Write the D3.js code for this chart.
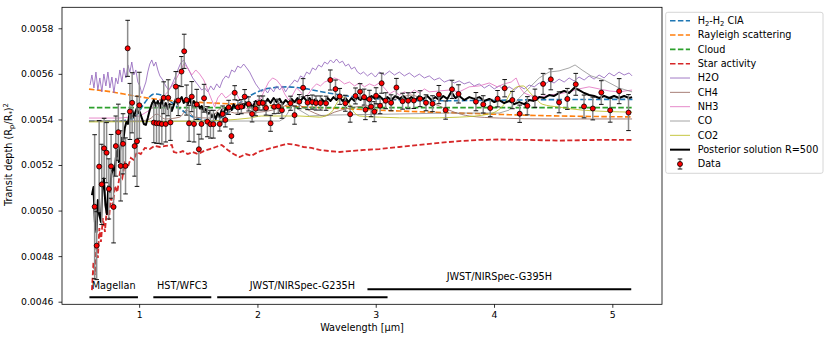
<!DOCTYPE html>
<html>
<head>
<meta charset="utf-8">
<script src="https://cdn.jsdelivr.net/npm/d3@7"></script>
<style>
  body { margin: 0; background: #fff; }
  svg text { font-family: "DejaVu Sans", sans-serif; }
</style>
</head>
<body>
<svg id="chart" width="830" height="338"></svg>
<script>
// transit depth values are kept in ppm (1e-6), axis shows them as fractions

// --- observed spectrum ---
const dataWl = [
  0.624,0.641,0.662,0.684,0.704,0.725,0.744,0.763,0.784,0.803,0.824,0.844,0.864,0.885,0.903,0.922,0.941,0.962,0.982,1.002,
  1.124,1.147,1.169,1.192,1.208,1.225,1.246,1.265,1.310,1.331,1.358,1.381,1.401,1.422,1.445,1.464,1.487,1.505,1.527,1.549,1.577,1.603,1.628,
  1.681,1.706,1.729,1.757,1.780,1.808,1.835,1.864,1.892,1.926,1.955,1.985,2.015,2.046,2.073,2.111,2.141,2.177,2.207,2.280,
  2.314,2.354,2.386,2.424,2.463,2.495,2.533,2.580,2.616,2.660,2.696,2.743,2.784,2.829,2.868,2.902,
  2.913,2.947,2.961,2.989,3.003,3.037,3.050,3.084,3.130,3.175,3.227,3.274,3.322,3.375,3.425,3.480,3.534,3.591,3.645,3.700,
  3.847,3.909,3.968,4.030,4.090,4.155,4.217,4.282,4.346,4.415,4.480,4.550,4.620,4.691,4.761,4.835,4.907,4.982,5.058,5.137
];
const dataDepth = [
  5017,4846,5193,5115,5273,5254,5095,5194,5016,5283,5344,5196,5293,5196,5712,5435,5473,5283,5304,5462,
  5386,5383,5383,5380,5495,5380,5495,5387,5544,5483,5610,5699,5485,5383,5500,5380,5466,5269,5380,5493,5390,5379,5379,
  5380,5424,5398,5453,5327,5517,5453,5456,5500,5468,5424,5447,5472,5472,5450,5383,5456,5458,5440,5471,
  5419,5478,5539,5474,5476,5472,5472,5471,5573,5533,5501,5471,5423,5503,5522,5498,
  5443,5488,5456,5434,5504,5460,5559,5482,5473,5540,5480,5482,5483,5491,5473,5469,5509,5441,5532,5512,
  5478,5466,5450,5491,5537,5485,5425,5460,5493,5556,5576,5475,5490,5554,5457,5448,5518,5440,5524,5430
];
const dataErr = [
  316,149,202,176,132,132,132,140,158,132,123,154,132,123,123,123,132,132,198,145,
  88,88,88,88,70,79,79,79,66,66,66,75,66,79,66,79,66,66,66,61,66,61,61,
  31,35,31,31,31,31,31,31,31,31,35,31,31,31,31,35,31,31,35,31,
  40,31,40,31,31,31,31,31,44,40,35,35,35,35,35,35,
  44,40,44,44,35,35,44,35,35,40,35,35,35,35,35,35,40,40,40,40,
  40,38,38,36,38,38,38,40,40,46,46,46,46,48,50,50,52,52,55,79
];

// --- model components [wavelength µm, depth ppm] ---
const ciaH2 = [[0.576,5392],[0.80,5392],[0.93,5400],[0.98,5420],[1.03,5460],[1.08,5495],[1.13,5512],[1.18,5508],
  [1.25,5485],[1.35,5445],[1.45,5412],[1.55,5396],[1.62,5393],[1.70,5410],[1.80,5450],[1.90,5492],[2.00,5520],
  [2.10,5537],[2.25,5543],[2.40,5535],[2.60,5516],[2.80,5500],[3.10,5488],[3.50,5482],[4.00,5484],[4.50,5487],[5.17,5488]];
const rayleigh = [[0.576,5533],[0.753,5522],[0.964,5503],[1.175,5487],[1.512,5475],[2.018,5463],[2.608,5450],
  [3.200,5437],[3.706,5428],[4.381,5417],[5.167,5411]];
const cloud = [[0.576,5452],[2.5,5452],[5.167,5452]];
const starActivity = [[0.601,4651],[0.614,4774],[0.626,4717],[0.639,4849],[0.651,4792],[0.664,4923],[0.677,4862],
  [0.694,4967],[0.711,4906],[0.727,5011],[0.744,4959],[0.761,5055],[0.778,5024],[0.795,5108],[0.816,5081],[0.837,5164],
  [0.858,5143],[0.879,5209],[0.905,5191],[0.930,5231],[0.955,5222],[0.981,5257],[1.014,5248],[1.048,5275],[1.090,5270],
  [1.132,5284],[1.175,5279],[1.225,5284],[1.276,5288],[1.293,5257],[1.327,5253],[1.369,5261],[1.411,5248],[1.453,5257],
  [1.496,5248],[1.546,5261],[1.597,5270],[1.648,5279],[1.698,5288],[1.749,5266],[1.799,5248],[1.850,5235],[1.901,5248],
  [1.951,5240],[2.002,5257],[2.061,5266],[2.120,5275],[2.188,5284],[2.255,5293],[2.323,5288],[2.390,5279],[2.457,5275],
  [2.525,5266],[2.609,5261],[2.694,5257],[2.778,5261],[2.905,5266],[3.032,5270],[3.200,5279],[3.369,5288],[3.537,5297],
  [3.706,5305],[3.875,5310],[4.044,5312],[4.297,5310],[4.550,5307],[4.888,5310],[5.167,5310]];
const h2o = [[0.585,5551],[0.601,5595],[0.618,5538],[0.635,5608],[0.651,5529],[0.668,5582],[0.685,5521],[0.702,5599],
  [0.719,5547],[0.736,5608],[0.753,5538],[0.770,5586],[0.787,5516],[0.803,5582],[0.820,5556],[0.837,5617],[0.854,5564],
  [0.871,5626],[0.888,5582],[0.905,5639],[0.922,5608],[0.938,5652],[0.955,5595],[0.972,5617],[0.989,5564],[1.006,5547],
  [1.023,5512],[1.040,5538],[1.057,5564],[1.073,5608],[1.090,5643],[1.107,5661],[1.124,5634],[1.141,5652],[1.158,5617],
  [1.175,5591],[1.200,5573],[1.225,5547],[1.250,5529],[1.276,5551],[1.301,5582],[1.327,5617],[1.352,5648],[1.377,5661],
  [1.402,5634],[1.428,5608],[1.453,5582],[1.479,5564],[1.504,5547],[1.529,5529],[1.554,5538],[1.580,5521],[1.605,5547],
  [1.630,5529],[1.656,5556],[1.681,5538],[1.706,5573],[1.732,5591],[1.757,5582],[1.782,5617],[1.808,5608],[1.833,5634],
  [1.859,5626],[1.884,5643],[1.909,5626],[1.934,5608],[1.959,5582],[1.985,5556],[2.010,5538],[2.036,5521],[2.061,5534],
  [2.086,5516],[2.111,5538],[2.137,5521],[2.162,5547],[2.188,5529],[2.213,5547],[2.238,5521],[2.264,5543],[2.289,5556],
  [2.314,5573],[2.339,5564],[2.365,5591],[2.390,5582],[2.416,5608],[2.441,5599],[2.466,5626],[2.492,5617],[2.517,5639],
  [2.542,5630],[2.568,5652],[2.593,5643],[2.618,5661],[2.643,5648],[2.668,5665],[2.694,5648],[2.719,5656],[2.745,5634],
  [2.770,5643],[2.795,5621],[2.821,5630],[2.846,5608],[2.871,5599],[2.897,5608],[2.930,5591],[2.964,5604],[2.997,5586],
  [3.031,5608],[3.073,5595],[3.116,5612],[3.158,5595],[3.200,5608],[3.242,5591],[3.284,5604],[3.327,5586],[3.369,5599],
  [3.411,5582],[3.453,5591],[3.495,5573],[3.538,5582],[3.580,5564],[3.622,5573],[3.664,5560],[3.706,5569],[3.748,5556],
  [3.791,5564],[3.833,5547],[3.875,5556],[3.918,5538],[3.960,5551],[4.002,5534],[4.044,5547],[4.086,5529],[4.128,5543],
  [4.171,5529],[4.213,5547],[4.255,5534],[4.297,5551],[4.340,5543],[4.382,5560],[4.424,5551],[4.466,5569],[4.508,5560],
  [4.550,5577],[4.593,5564],[4.635,5582],[4.677,5569],[4.719,5586],[4.762,5573],[4.804,5591],[4.846,5577],[4.888,5595],
  [4.931,5582],[4.973,5604],[5.015,5591],[5.057,5608],[5.100,5595],[5.142,5604],[5.167,5591]];
const ch4 = [[0.576,5393],[1.006,5393],[1.090,5402],[1.149,5424],[1.217,5402],[1.343,5410],[1.402,5441],[1.470,5410],
  [1.597,5406],[1.698,5450],[1.808,5428],[2.018,5432],[2.230,5459],[2.297,5476],[2.398,5450],[2.483,5428],[2.568,5415],
  [2.652,5432],[2.778,5450],[3.031,5467],[3.200,5494],[3.301,5507],[3.411,5485],[3.538,5459],[3.664,5432],[3.791,5415],
  [4.044,5406],[4.466,5402],[5.167,5402]];
const nh3 = [[0.576,5406],[0.837,5406],[1.006,5415],[1.090,5441],[1.175,5485],[1.242,5521],[1.301,5564],[1.343,5608],
  [1.377,5643],[1.411,5626],[1.445,5595],[1.479,5617],[1.512,5599],[1.546,5573],[1.580,5529],[1.614,5485],[1.639,5454],
  [1.664,5494],[1.698,5516],[1.732,5494],[1.766,5507],[1.808,5529],[1.842,5494],[1.867,5476],[1.901,5450],[1.926,5441],
  [1.959,5467],[1.993,5485],[2.027,5490],[2.061,5529],[2.095,5564],[2.128,5582],[2.162,5573],[2.196,5551],[2.230,5512],
  [2.264,5485],[2.297,5507],[2.331,5538],[2.365,5521],[2.398,5498],[2.432,5512],[2.466,5538],[2.500,5556],[2.533,5547],
  [2.568,5564],[2.610,5573],[2.652,5582],[2.694,5573],[2.736,5556],[2.778,5564],[2.821,5547],[2.863,5560],[2.905,5543],
  [2.947,5556],[2.989,5547],[3.031,5560],[3.073,5538],[3.116,5512],[3.158,5525],[3.200,5507],[3.242,5521],[3.284,5512],
  [3.327,5529],[3.369,5516],[3.411,5534],[3.453,5521],[3.538,5525],[3.622,5529],[3.706,5521],[3.791,5543],[3.875,5547],
  [3.960,5560],[4.027,5543],[4.086,5556],[4.145,5564],[4.187,5582],[4.221,5538],[4.255,5516],[4.314,5503],[4.382,5498],
  [4.466,5507],[4.550,5512],[4.635,5521],[4.719,5534],[4.804,5543],[4.888,5534],[4.973,5525],[5.057,5521],[5.167,5529]];
const co = [[0.576,5393],[2.188,5393],[2.230,5406],[2.297,5463],[2.356,5441],[2.441,5415],[2.610,5419],[3.200,5424],
  [3.622,5428],[4.044,5428],[4.128,5441],[4.213,5494],[4.297,5538],[4.382,5582],[4.466,5608],[4.550,5613],[4.635,5626],
  [4.685,5639],[4.744,5617],[4.820,5591],[4.930,5573],[5.057,5538],[5.167,5521]];
const co2 = [[0.576,5389],[1.512,5393],[1.934,5406],[2.036,5415],[2.356,5415],[2.525,5410],[2.626,5432],[2.677,5476],
  [2.719,5498],[2.761,5485],[2.804,5441],[2.863,5415],[3.031,5410],[3.369,5406],[3.706,5410],[3.960,5424],[4.086,5467],
  [4.145,5521],[4.196,5543],[4.247,5547],[4.297,5521],[4.348,5494],[4.407,5467],[4.550,5454],[4.744,5441],[5.167,5432]];

// --- posterior solution R=500 ---
const postWl = [
  0.601,0.614,0.626,0.639,0.651,0.664,0.677,0.689,0.702,0.715,0.727,0.740,0.753,0.765,0.778,0.791,0.803,0.816,0.829,0.841,
  0.854,0.867,0.879,0.892,0.905,0.918,0.930,0.943,0.955,0.968,0.981,0.993,1.006,
  1.023,1.040,1.057,1.073,1.090,1.107,1.124,1.141,1.158,1.175,1.192,1.208,1.225,1.242,1.259,1.276,1.293,1.310,1.327,1.343,
  1.360,1.377,1.394,1.411,1.428,1.445,1.462,1.479,1.496,1.512,1.529,1.546,1.563,1.580,1.597,1.614,1.630,1.647,1.664,1.681,
  1.698,1.715,1.732,1.749,1.766,1.782,1.799,1.816,1.833,1.850,1.867,1.884,1.901,1.918,1.934,
  1.960,1.985,2.010,2.036,2.061,2.086,2.111,2.137,2.162,2.188,2.213,2.238,2.264,2.289,2.314,2.339,2.365,2.390,2.416,2.441,
  2.466,2.492,2.517,2.542,2.568,2.593,2.618,2.643,2.668,2.694,2.719,2.745,2.770,2.795,2.821,2.846,2.871,2.897,
  2.930,2.964,2.997,3.031,3.065,3.098,3.132,3.166,3.200,3.234,3.267,3.301,3.335,3.368,3.402,3.436,3.470,3.504,3.538,3.571,
  3.605,3.639,3.673,3.706,
  3.748,3.791,3.833,3.876,3.918,3.960,4.002,4.044,4.086,4.128,4.171,4.213,4.255,4.297,4.340,4.382,4.424,4.466,4.508,4.550,
  4.593,4.635,4.677,4.719,4.762,4.804,4.846,4.889,4.931,4.973,5.015,5.057,5.100,5.142,5.167
];
const postDepth = [
  5068,5103,4950,4906,5046,4980,4950,5090,5143,5024,4985,5108,5081,5156,5187,5156,5231,5266,5213,5275,
  5319,5310,5362,5389,5380,5424,5406,5441,5410,5432,5450,5428,5432,
  5406,5380,5376,5406,5441,5467,5485,5459,5481,5450,5490,5459,5472,5446,5467,5437,5463,5490,5467,5485,
  5498,5472,5494,5467,5490,5463,5481,5459,5472,5450,5459,5437,5446,5424,5432,5410,5424,5402,5428,5415,
  5441,5428,5450,5437,5459,5441,5467,5450,5463,5446,5467,5450,5476,5459,5472,
  5454,5481,5463,5485,5467,5490,5472,5494,5476,5490,5467,5485,5472,5490,5476,5494,5481,5498,5481,5494,
  5476,5490,5472,5490,5476,5494,5481,5498,5485,5498,5481,5494,5476,5494,5481,5498,5485,5498,
  5485,5503,5490,5503,5485,5498,5485,5503,5490,5503,5485,5498,5485,5503,5490,5503,5485,5498,5485,5503,
  5490,5521,5494,5503,
  5485,5498,5490,5498,5481,5490,5476,5485,5472,5481,5467,5476,5467,5485,5481,5498,5494,5507,5503,5516,
  5525,5516,5538,5529,5516,5507,5503,5494,5503,5494,5503,5494,5503,5494,5498
];

// --- instruments ---
const instNames = ['Magellan', 'HST/WFC3', 'JWST/NIRSpec-G235H', 'JWST/NIRSpec-G395H'];
const instStart = [0.58, 1.12, 1.66, 2.93];
const instEnd = [0.99, 1.61, 3.10, 5.16];
const instRow = [0, 0, 0, 1];

const yTicks = [4600, 4800, 5000, 5200, 5400, 5600, 5800];
const xTicks = [1, 2, 3, 4, 5];

const margin = { left: 62, right: 662, top: 7.3, bottom: 304.3 };
const FS = 9.7;
const svg = d3.select('#chart');

const x = d3.scaleLinear().domain([0.348, 5.42]).range([margin.left, margin.right]);
const y = d3.scaleLinear().domain([4588.6, 5892.1]).range([margin.bottom, margin.top]);

svg.append('defs').append('clipPath').attr('id', 'plotclip').append('rect')
  .attr('x', margin.left).attr('y', margin.top)
  .attr('width', margin.right - margin.left).attr('height', margin.bottom - margin.top);

const plot = svg.append('g').attr('clip-path', 'url(#plotclip)');

const line = d3.line().x(d => x(d[0])).y(d => y(d[1]));
const smooth = d3.line().x(d => x(d[0])).y(d => y(d[1])).curve(d3.curveMonotoneX);

// model components, in legend order
const series = [
  { pts: ciaH2, color: '#1f77b4', w: 1.6, dash: '5.5,2.4', gen: smooth },
  { pts: rayleigh, color: '#ff7f0e', w: 1.6, dash: '5.5,2.4', gen: smooth },
  { pts: cloud, color: '#2ca02c', w: 1.6, dash: '5.5,2.4', gen: line },
  { pts: starActivity, color: '#d62728', w: 1.8, dash: '5,2.4', gen: line },
  { pts: h2o, color: '#9467bd', w: 1, dash: null, gen: line, op: 0.85 },
  { pts: ch4, color: '#8c564b', w: 1, dash: null, gen: smooth, op: 0.75 },
  { pts: nh3, color: '#e377c2', w: 1, dash: null, gen: line, op: 0.85 },
  { pts: co, color: '#7f7f7f', w: 1, dash: null, gen: line, op: 0.7 },
  { pts: co2, color: '#bcbd22', w: 1, dash: null, gen: smooth, op: 0.85 }
];

series.forEach(s => {
  plot.append('path').datum(s.pts)
    .attr('d', s.gen)
    .attr('fill', 'none')
    .attr('stroke', s.color)
    .attr('stroke-width', s.w)
    .attr('stroke-dasharray', s.dash)
    .attr('opacity', s.op || 1);
});

// posterior
const postPts = postWl.map((w, i) => [w, postDepth[i]]);
plot.append('path').datum(postPts)
  .attr('d', line).attr('fill', 'none')
  .attr('stroke', '#000').attr('stroke-width', 2).attr('stroke-linejoin', 'round');

// data with error bars
const pts = dataWl.map((w, i) => ({ w, d: dataDepth[i], e: dataErr[i] }));
const eb = plot.append('g').selectAll('g').data(pts).enter().append('g');
eb.append('line')
  .attr('x1', d => x(d.w)).attr('x2', d => x(d.w))
  .attr('y1', d => y(d.d - d.e)).attr('y2', d => y(d.d + d.e))
  .attr('stroke', '#8c8c8c').attr('stroke-width', 1.5);
[-1, 1].forEach(sg => {
  eb.append('line')
    .attr('x1', d => x(d.w) - 2.3).attr('x2', d => x(d.w) + 2.3)
    .attr('y1', d => y(d.d + sg * d.e)).attr('y2', d => y(d.d + sg * d.e))
    .attr('stroke', '#111').attr('stroke-width', 1);
});
plot.append('g').selectAll('circle').data(pts).enter().append('circle')
  .attr('cx', d => x(d.w)).attr('cy', d => y(d.d)).attr('r', 2.5)
  .attr('fill', '#ff0000').attr('stroke', '#000').attr('stroke-width', 0.8);

// instrument coverage bars
const instBarY = [297.2, 289.2];
const instTextY = [289.3, 279.5];
instNames.forEach((n, i) => {
  plot.append('line')
    .attr('x1', x(instStart[i])).attr('x2', x(instEnd[i]))
    .attr('y1', instBarY[instRow[i]]).attr('y2', instBarY[instRow[i]])
    .attr('stroke', '#000').attr('stroke-width', 2);
  svg.append('text')
    .attr('x', x((instStart[i] + instEnd[i]) / 2)).attr('y', instTextY[instRow[i]])
    .attr('text-anchor', 'middle').attr('font-size', FS).attr('fill', '#000')
    .text(n);
});

// axes
const xAxis = svg.append('g').attr('transform', `translate(0,${margin.bottom})`)
  .call(d3.axisBottom(x).tickValues(xTicks).tickFormat(d3.format('d')).tickSize(3.5).tickPadding(3.6));
const yAxis = svg.append('g').attr('transform', `translate(${margin.left},0)`)
  .call(d3.axisLeft(y).tickValues(yTicks).tickFormat(d => (d / 1e6).toFixed(4)).tickSize(3.5).tickPadding(5));
[xAxis, yAxis].forEach(a => {
  a.select('.domain').remove();
  a.selectAll('text').attr('font-size', 9.3).attr('font-family', '"DejaVu Sans", sans-serif').attr('fill', '#000');
  a.selectAll('line').attr('stroke', '#000').attr('stroke-width', 0.8);
});

svg.append('rect')
  .attr('x', margin.left).attr('y', margin.top)
  .attr('width', margin.right - margin.left).attr('height', margin.bottom - margin.top)
  .attr('fill', 'none').attr('stroke', '#000').attr('stroke-width', 0.8);

svg.append('text')
  .attr('x', (margin.left + margin.right) / 2).attr('y', 331)
  .attr('text-anchor', 'middle').attr('font-size', FS)
  .text('Wavelength [μm]');

const yl = svg.append('text')
  .attr('transform', 'translate(12,154.5) rotate(-90)')
  .attr('text-anchor', 'middle').attr('font-size', FS);
yl.append('tspan').text('Transit depth (R');
yl.append('tspan').attr('font-size', 6.8).attr('dy', 2).text('p');
yl.append('tspan').attr('dy', -2).text('/R');
yl.append('tspan').attr('font-size', 6.8).attr('dy', 2).text('*');
yl.append('tspan').attr('dy', -2).text(')');
yl.append('tspan').attr('font-size', 6.8).attr('dy', -3.8).text('2');

// legend
const lg = svg.append('g');
lg.append('rect').attr('x', 665.7).attr('y', 12.3).attr('width', 157.3).attr('height', 161)
  .attr('rx', 2).attr('fill', '#fff').attr('stroke', '#ccc').attr('stroke-width', 0.8);

const legendItems = [
  { label: [['H', 0], ['2', 1], ['-H', 0], ['2', 1], [' CIA', 0]], color: '#1f77b4', w: 1.6, dash: '5.5,2.4' },
  { label: [['Rayleigh scattering', 0]], color: '#ff7f0e', w: 1.6, dash: '5.5,2.4' },
  { label: [['Cloud', 0]], color: '#2ca02c', w: 1.6, dash: '5.5,2.4' },
  { label: [['Star activity', 0]], color: '#d62728', w: 1.6, dash: '5.5,2.4' },
  { label: [['H2O', 0]], color: '#9467bd', w: 1, op: 0.85 },
  { label: [['CH4', 0]], color: '#8c564b', w: 1, op: 0.75 },
  { label: [['NH3', 0]], color: '#e377c2', w: 1, op: 0.85 },
  { label: [['CO', 0]], color: '#7f7f7f', w: 1, op: 0.7 },
  { label: [['CO2', 0]], color: '#bcbd22', w: 1, op: 0.85 },
  { label: [['Posterior solution R=500', 0]], color: '#000', w: 2 },
  { label: [['Data', 0]], data: true }
];

legendItems.forEach((it, i) => {
  const cy = 20.7 + i * 14.33;
  if (it.data) {
    lg.append('line').attr('x1', 680).attr('x2', 680).attr('y1', cy - 5).attr('y2', cy + 5)
      .attr('stroke', '#8c8c8c').attr('stroke-width', 1.5);
    [-5, 5].forEach(o => lg.append('line').attr('x1', 677.7).attr('x2', 682.3)
      .attr('y1', cy + o).attr('y2', cy + o).attr('stroke', '#111').attr('stroke-width', 1));
    lg.append('circle').attr('cx', 680).attr('cy', cy).attr('r', 2.5)
      .attr('fill', '#ff0000').attr('stroke', '#000').attr('stroke-width', 0.8);
  } else {
    lg.append('line').attr('x1', 670).attr('x2', 690).attr('y1', cy).attr('y2', cy)
      .attr('stroke', it.color).attr('stroke-width', it.w)
      .attr('stroke-dasharray', it.dash || null).attr('opacity', it.op || 1);
  }
  const t = lg.append('text').attr('x', 697.7).attr('y', cy + 3.4).attr('font-size', FS);
  let shift = 0;
  it.label.forEach(([s, sub]) => {
    const ts = t.append('tspan').text(s);
    if (sub && !shift) { ts.attr('font-size', 6.8).attr('dy', 2); shift = 1; }
    else if (!sub && shift) { ts.attr('dy', -2); shift = 0; }
  });
});
</script>
</body>
</html>
